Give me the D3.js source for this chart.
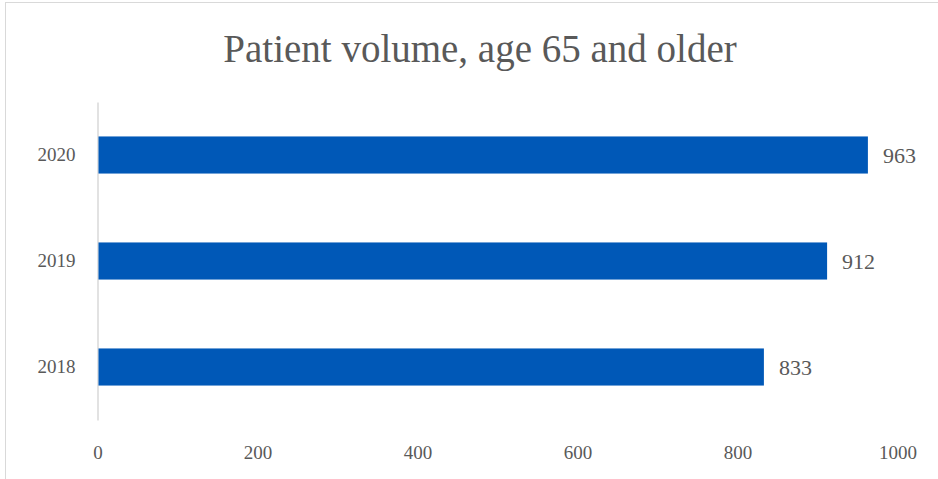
<!DOCTYPE html>
<html>
<head>
<meta charset="utf-8">
<script src="https://cdn.jsdelivr.net/npm/d3@7"></script>
<style>
  html, body { margin: 0; padding: 0; background: #fff; }
  svg { display: block; }
  text { font-family: "Liberation Serif", "DejaVu Serif", serif; fill: #595959; }
</style>
</head>
<body>
<svg id="chart" width="938" height="479"></svg>
<script>
// Patient volume for ages 65+, by year
const years = ["2018", "2019", "2020"];
const volumes = [833, 912, 963];
const xTicks = [0, 200, 400, 600, 800, 1000];
const title = "Patient volume, age 65 and older";

const svg = d3.select("#chart");
const W = 938, H = 479;
const plot = { left: 97.5, right: 897.5, top: 102, bottom: 420 };

// chart frame
svg.append("rect")
  .attr("x", 5.5).attr("y", 2.5)
  .attr("width", W).attr("height", H)
  .attr("fill", "#fff")
  .attr("stroke", "#d9d9d9").attr("stroke-width", 1);

svg.append("text")
  .attr("x", 480).attr("y", 62)
  .attr("text-anchor", "middle")
  .attr("font-size", 39)
  .text(title);

const x = d3.scaleLinear().domain([0, 1000]).range([plot.left, plot.right]);
const y = d3.scaleBand()
  .domain(years)
  .range([plot.bottom, plot.top])
  .paddingInner(0.65)
  .paddingOuter(0.325);

// value axis labels (no line)
const xAxis = svg.append("g")
  .attr("transform", `translate(0,${plot.bottom + 22})`)
  .call(d3.axisBottom(x).tickValues(xTicks).tickSize(0).tickFormat(d3.format("d")));
xAxis.select(".domain").remove();
xAxis.selectAll("text")
  .attr("font-size", 19)
  .attr("font-family", "Liberation Serif, serif")
  .attr("fill", "#595959");

// category axis
const yAxis = svg.append("g")
  .attr("transform", `translate(${plot.left},0)`)
  .call(d3.axisLeft(y).tickSize(0).tickPadding(22));
yAxis.select(".domain")
  .attr("stroke", "#d9d9d9").attr("stroke-width", 1.5);
yAxis.selectAll("text")
  .attr("font-size", 19)
  .attr("font-family", "Liberation Serif, serif")
  .attr("fill", "#595959");

// bars
svg.append("g").selectAll("rect")
  .data(years)
  .join("rect")
  .attr("x", x(0) + 1)
  .attr("y", d => y(d))
  .attr("width", (d, i) => x(volumes[i]) - x(0) - 1)
  .attr("height", y.bandwidth())
  .attr("fill", "#0058b7");

// data labels
svg.append("g").selectAll("text")
  .data(years)
  .join("text")
  .attr("x", (d, i) => x(volumes[i]) + 15)
  .attr("y", d => y(d) + y.bandwidth() / 2)
  .attr("dy", "0.35em")
  .attr("font-size", 22)
  .text((d, i) => volumes[i]);
</script>
</body>
</html>
